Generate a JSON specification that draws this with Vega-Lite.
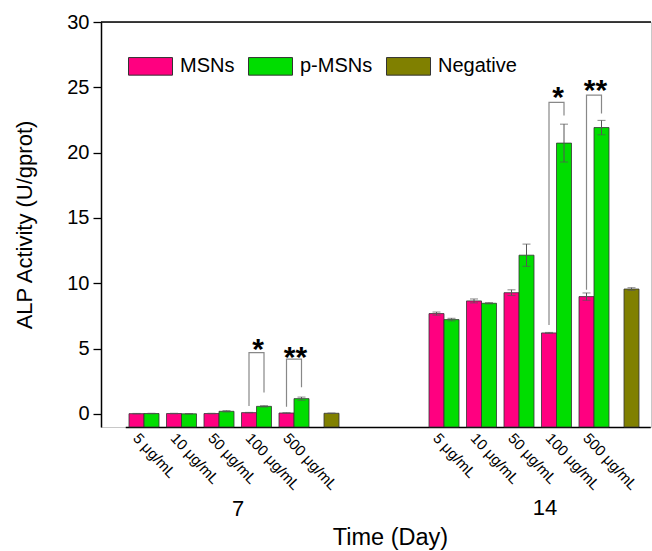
{
  "$schema": "https://vega.github.io/schema/vega-lite/v6.json",
  "width": 550,
  "height": 405,
  "autosize": {"type": "none"},
  "padding": {"left": 101, "top": 22, "right": 1, "bottom": 124},
  "background": "white",
  "config": {
    "font": "Liberation Sans",
    "view": {"stroke": "#c8c8c8", "strokeWidth": 1},
    "axis": {"labelFont": "Liberation Sans", "titleFont": "Liberation Sans", "labelColor": "#000", "titleColor": "#000", "titleFontWeight": "normal", "domainColor": "#000", "tickColor": "#000", "grid": false}
  },
  "datasets": {
    "bars": [
      {"slot": "7|5 μg/mL", "series": "MSNs", "value": 0.02, "err": 0.02},
      {"slot": "7|5 μg/mL", "series": "p-MSNs", "value": 0.03, "err": 0.02},
      {"slot": "7|10 μg/mL", "series": "MSNs", "value": 0.03, "err": 0.02},
      {"slot": "7|10 μg/mL", "series": "p-MSNs", "value": 0.01, "err": 0.01},
      {"slot": "7|50 μg/mL", "series": "MSNs", "value": 0.03, "err": 0.02},
      {"slot": "7|50 μg/mL", "series": "p-MSNs", "value": 0.2, "err": 0.05},
      {"slot": "7|100 μg/mL", "series": "MSNs", "value": 0.1, "err": 0.02},
      {"slot": "7|100 μg/mL", "series": "p-MSNs", "value": 0.58, "err": 0.05},
      {"slot": "7|500 μg/mL", "series": "MSNs", "value": 0.07, "err": 0.02},
      {"slot": "7|500 μg/mL", "series": "p-MSNs", "value": 1.17, "err": 0.12},
      {"slot": "7|neg", "series": "Negative", "value": 0.05, "err": 0.02},
      {"slot": "14|5 μg/mL", "series": "MSNs", "value": 7.68, "err": 0.12},
      {"slot": "14|5 μg/mL", "series": "p-MSNs", "value": 7.22, "err": 0.1},
      {"slot": "14|10 μg/mL", "series": "MSNs", "value": 8.65, "err": 0.15},
      {"slot": "14|10 μg/mL", "series": "p-MSNs", "value": 8.47, "err": 0.05},
      {"slot": "14|50 μg/mL", "series": "MSNs", "value": 9.28, "err": 0.22},
      {"slot": "14|50 μg/mL", "series": "p-MSNs", "value": 12.15, "err": 0.85},
      {"slot": "14|100 μg/mL", "series": "MSNs", "value": 6.2, "err": 0.04},
      {"slot": "14|100 μg/mL", "series": "p-MSNs", "value": 20.73, "err": 1.45},
      {"slot": "14|500 μg/mL", "series": "MSNs", "value": 8.98, "err": 0.28},
      {"slot": "14|500 μg/mL", "series": "p-MSNs", "value": 21.92, "err": 0.55},
      {"slot": "14|neg", "series": "Negative", "value": 9.56, "err": 0.1}
    ],
    "brackets": [
      {"b": 1, "slot": "7|100 μg/mL", "series": "MSNs", "y": 0.6, "o": 1},
      {"b": 1, "slot": "7|100 μg/mL", "series": "MSNs", "y": 4.7, "o": 2},
      {"b": 1, "slot": "7|100 μg/mL", "series": "p-MSNs", "y": 4.7, "o": 3},
      {"b": 1, "slot": "7|100 μg/mL", "series": "p-MSNs", "y": 1.65, "o": 4},
      {"b": 2, "slot": "7|500 μg/mL", "series": "MSNs", "y": 0.55, "o": 1},
      {"b": 2, "slot": "7|500 μg/mL", "series": "MSNs", "y": 4.2, "o": 2},
      {"b": 2, "slot": "7|500 μg/mL", "series": "p-MSNs", "y": 4.2, "o": 3},
      {"b": 2, "slot": "7|500 μg/mL", "series": "p-MSNs", "y": 2.05, "o": 4},
      {"b": 3, "slot": "14|100 μg/mL", "series": "MSNs", "y": 6.8, "o": 1},
      {"b": 3, "slot": "14|100 μg/mL", "series": "MSNs", "y": 23.85, "o": 2},
      {"b": 3, "slot": "14|100 μg/mL", "series": "p-MSNs", "y": 23.85, "o": 3},
      {"b": 3, "slot": "14|100 μg/mL", "series": "p-MSNs", "y": 22.85, "o": 4},
      {"b": 4, "slot": "14|500 μg/mL", "series": "MSNs", "y": 9.5, "o": 1},
      {"b": 4, "slot": "14|500 μg/mL", "series": "MSNs", "y": 24.4, "o": 2},
      {"b": 4, "slot": "14|500 μg/mL", "series": "p-MSNs", "y": 24.4, "o": 3},
      {"b": 4, "slot": "14|500 μg/mL", "series": "p-MSNs", "y": 23.0, "o": 4}
    ],
    "stars": [
      {"slot": "7|100 μg/mL", "t": "*", "y": 4.17},
      {"slot": "7|500 μg/mL", "t": "**", "y": 3.6},
      {"slot": "14|100 μg/mL", "t": "*", "y": 23.5},
      {"slot": "14|500 μg/mL", "t": "**", "y": 24.04}
    ]
  },
  "layer": [
    {
      "data": {"name": "bars"},
      "transform": [{"filter": "datum.series !== 'Negative'"}],
      "mark": {"type": "bar", "stroke": "#333", "strokeWidth": 0.8},
      "encoding": {
        "x": {
          "field": "slot", "type": "nominal",
          "scale": {"type": "band", "domain": ["7|5 μg/mL", "7|10 μg/mL", "7|50 μg/mL", "7|100 μg/mL", "7|500 μg/mL", "7|neg", "g1", "g2", "14|5 μg/mL", "14|10 μg/mL", "14|50 μg/mL", "14|100 μg/mL", "14|500 μg/mL", "14|neg"], "range": [24.25, 549.25], "paddingInner": 0, "paddingOuter": 0},
          "axis": {"title": "Time (Day)", "titleFontSize": 23.5, "titleX": 289, "titleY": 98, "titleAlign": "center", "titleBaseline": "top", "labelFontSize": 15, "labelAngle": 47, "labelAlign": "left", "labelBaseline": "middle", "labelOffset": -8, "labelPadding": 8, "ticks": false, "domainWidth": 1.5, "labelLimit": 0, "labelExpr": "indexof(datum.value, 'neg') >= 0 || indexof(datum.value, '|') < 0 ? '' : split(datum.value, '|')[1]"}
        },
        "xOffset": {"field": "series", "type": "nominal", "scale": {"domain": ["MSNs", "p-MSNs"], "paddingInner": 0, "paddingOuter": 0.25}},
        "y": {
          "field": "value", "type": "quantitative", "title": "ALP Activity (U/gprot)",
          "scale": {"domain": [-1, 30], "nice": false, "zero": false},
          "axis": {"title": "ALP Activity (U/gprot)", "titleFontSize": 22, "titlePadding": 30, "labelFontSize": 20, "values": [0, 2.5, 5, 7.5, 10, 12.5, 15, 17.5, 20, 22.5, 25, 27.5, 30], "labelExpr": "datum.value % 5 === 0 ? datum.label : ''", "tickSize": {"condition": {"test": "datum.value % 5 === 0", "value": 8}, "value": 5}, "tickWidth": 1.3, "domainWidth": 1.5, "labelPadding": 4}
        },
        "y2": {"datum": -1},
        "color": {
          "field": "series", "type": "nominal",
          "scale": {"domain": ["MSNs", "p-MSNs", "Negative"], "range": ["#ff0080", "#00dd00", "#808000"]},
          "legend": {"title": null, "orient": "none", "legendX": 27, "legendY": 21.5, "direction": "horizontal", "symbolType": "M-1,-0.4H1V0.4H-1Z", "symbolSize": 1936, "symbolStrokeColor": "#555", "symbolStrokeWidth": 1, "symbolOpacity": 1, "labelFontSize": 20, "labelFont": "Liberation Sans", "labelColor": "#000", "labelOffset": 7, "columnPadding": 11, "padding": 0}
        }
      }
    },
    {
      "data": {"name": "bars"},
      "transform": [{"filter": "datum.series === 'Negative'"}],
      "mark": {"type": "bar", "stroke": "#333", "strokeWidth": 0.8, "width": 15},
      "encoding": {
        "x": {"field": "slot", "type": "nominal"},
        "y": {"field": "value", "type": "quantitative", "title": "ALP Activity (U/gprot)"},
        "y2": {"datum": -1},
        "color": {"field": "series", "type": "nominal"}
      }
    },
    {
      "data": {"name": "bars"},
      "transform": [{"filter": "datum.series !== 'Negative'"}],
      "mark": {"type": "errorbar", "ticks": {"size": 8}, "color": "#555", "thickness": 1},
      "encoding": {
        "x": {"field": "slot", "type": "nominal"},
        "xOffset": {"field": "series", "type": "nominal"},
        "y": {"field": "value", "type": "quantitative", "title": "ALP Activity (U/gprot)"},
        "yError": {"field": "err"}
      }
    },
    {
      "data": {"name": "bars"},
      "transform": [{"filter": "datum.series === 'Negative'"}],
      "mark": {"type": "errorbar", "ticks": {"size": 8}, "color": "#555", "thickness": 1},
      "encoding": {
        "x": {"field": "slot", "type": "nominal"},
        "y": {"field": "value", "type": "quantitative", "title": "ALP Activity (U/gprot)"},
        "yError": {"field": "err"}
      }
    },
    {
      "data": {"name": "brackets"},
      "mark": {"type": "line", "color": "#888", "strokeWidth": 1.2},
      "encoding": {
        "x": {"field": "slot", "type": "nominal"},
        "xOffset": {"field": "series", "type": "nominal"},
        "y": {"field": "y", "type": "quantitative", "title": "ALP Activity (U/gprot)"},
        "detail": {"field": "b", "type": "nominal"},
        "order": {"field": "o", "type": "quantitative"}
      }
    },
    {
      "data": {"name": "stars"},
      "mark": {"type": "text", "fontSize": 30, "fontWeight": "bold", "baseline": "alphabetic", "align": "center", "dx": 1.5, "color": "#000"},
      "encoding": {
        "x": {"field": "slot", "type": "nominal"},
        "y": {"field": "y", "type": "quantitative", "title": "ALP Activity (U/gprot)"},
        "text": {"field": "t"}
      }
    },
    {
      "data": {"values": [{"label": "7"}]},
      "mark": {"type": "text", "fontSize": 22, "dx": -18.5, "baseline": "middle", "align": "center", "color": "#000"},
      "encoding": {
        "x": {"datum": "7|100 μg/mL", "type": "nominal"},
        "y": {"datum": -7.27, "type": "quantitative"},
        "text": {"field": "label"}
      }
    },
    {
      "data": {"values": [{"label": "14"}]},
      "mark": {"type": "text", "fontSize": 22, "dx": -11.5, "baseline": "middle", "align": "center", "color": "#000"},
      "encoding": {
        "x": {"datum": "14|100 μg/mL", "type": "nominal"},
        "y": {"datum": -7.2, "type": "quantitative"},
        "text": {"field": "label"}
      }
    },
    {
      "data": {"values": [{}]},
      "mark": {"type": "rule", "color": "#000", "strokeWidth": 1.5},
      "encoding": {"y": {"datum": 30, "type": "quantitative"}}
    }
  ]
}
